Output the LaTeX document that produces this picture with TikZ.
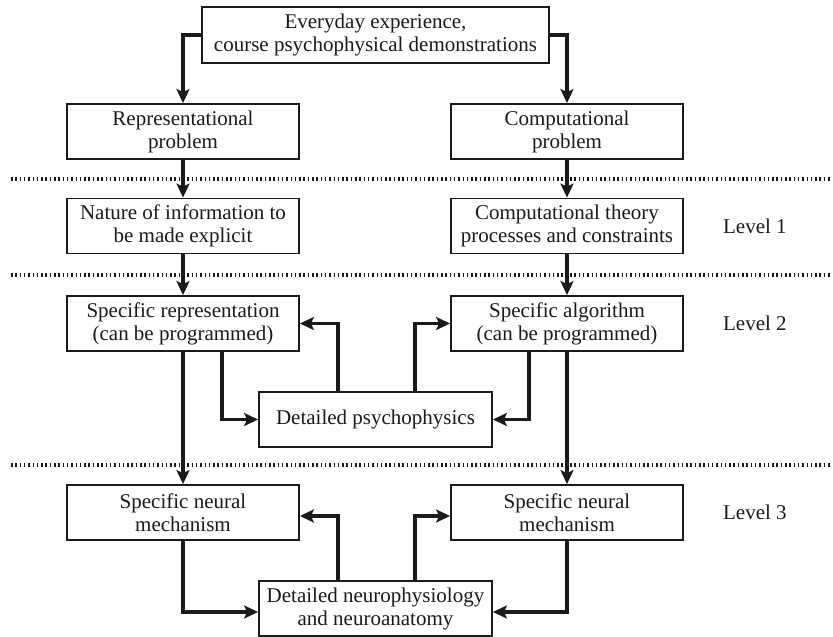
\documentclass[tikz,border=0pt]{standalone}
\usepackage{fontspec}
\setmainfont{Liberation Serif}
\usepackage{tikz}
\usetikzlibrary{arrows.meta,positioning,calc}
\definecolor{ink}{HTML}{1A1A1A}
\tikzset{
  >={Stealth[length=14pt,width=13pt,inset=3pt]},
  every picture/.style={line join=miter},
  box/.style={draw=ink, fill=white, line width=1.8pt, align=center,
    font=\fontsize{21}{23}\selectfont, text=ink, inner sep=2pt,
    minimum width=232pt, minimum height=55pt},
  arr/.style={->, draw=ink, line width=3.6pt},
  sep/.style={draw=ink, line width=4pt, dash pattern=on 1.5pt off 2.8pt},
  lvl/.style={font=\fontsize{21}{23}\selectfont, text=ink, anchor=west, inner sep=0pt},
}
\begin{document}
\begin{tikzpicture}[x=1pt, y=-1pt]
  \useasboundingbox (0,0) rectangle (833,637);

  % ---------------- level separators ----------------
  \foreach \yy in {179,275,465}
    \draw[sep] (11,\yy) -- (832,\yy);

  % ---------------- boxes ----------------
  \node[box, minimum width=347pt, minimum height=56pt] (exp) at (375.5,35)
    {Everyday experience,\\ course psychophysical demonstrations};
  \node[box] (rep)  at (183,131.5) {Representational\\ problem};
  \node[box] (comp) at (567,131.5) {Computational\\ problem};
  \node[box] (info) at (183,226) {Nature of information to\\ be made explicit};
  \node[box] (theo) at (567,226) {Computational theory\\ processes and constraints};
  \node[box] (srep) at (183,323.5) {Specific representation\\ (can be programmed)};
  \node[box] (algo) at (567,323.5) {Specific algorithm\\ (can be programmed)};
  \node[box, minimum width=233pt] (psy) at (375.5,419.5) {Detailed psychophysics};
  \node[box] (neul) at (183,512.5) {Specific neural\\ mechanism};
  \node[box] (neur) at (567,512.5) {Specific neural\\ mechanism};
  \node[box, minimum width=233pt] (anat) at (375.5,608.5)
    {Detailed neurophysiology\\ and neuroanatomy};

  % ---------------- level labels ----------------
  \node[lvl, right=39pt of theo] (l1) {Level 1};
  \node[lvl, right=39pt of algo] (l2) {Level 2};
  \node[lvl, right=39pt of neur] (l3) {Level 3};

  % ---------------- connectors ----------------
  \draw[arr] (exp.west) -| (rep.north);
  \draw[arr] (exp.east) -| (comp.north);
  \draw[arr] (rep) -- (info);
  \draw[arr] (comp) -- (theo);
  \draw[arr] (info) -- (srep);
  \draw[arr] (theo) -- (algo);
  \draw[arr] (srep) -- (neul);
  \draw[arr] (algo) -- (neur);

  \draw[arr] ([xshift=39pt]srep.south) |- (psy.west);
  \draw[arr] ([xshift=-38pt]algo.south) |- (psy.east);
  \draw[arr] ([xshift=-37.5pt]psy.north) |- (srep.east);
  \draw[arr] ([xshift=39.5pt]psy.north) |- (algo.west);

  \draw[arr] (neul.south) |- ([yshift=-3.5pt]anat.west);
  \draw[arr] (neur.south) |- ([yshift=-3.5pt]anat.east);
  \draw[arr] ([xshift=-37.5pt]anat.north) |- ([yshift=-3.5pt]neul.east);
  \draw[arr] ([xshift=39.5pt]anat.north) |- ([yshift=-3.5pt]neur.west);
\end{tikzpicture}
\end{document}
